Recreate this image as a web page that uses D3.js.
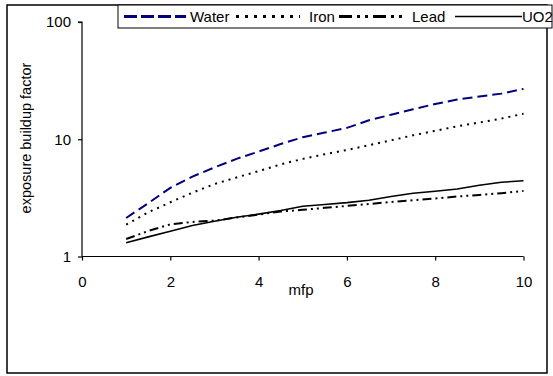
<!DOCTYPE html>
<html>
<head>
<meta charset="utf-8">
<script src="https://cdn.jsdelivr.net/npm/d3@7"></script>
<style>
  body { margin: 0; background: #fff; }
  svg { display: block; font-family: "Liberation Sans", Arial, sans-serif; }
</style>
</head>
<body>
<div id="chart"></div>
<script>
// mfp values and buildup factors
const mfp = [1, 1.5, 2, 2.5, 3, 3.5, 4, 4.5, 5, 5.5, 6, 6.5, 7, 7.5, 8, 8.5, 9, 9.5, 10];
const water = [2.13, 2.85, 3.85, 4.8, 5.75, 6.8, 7.85, 9.1, 10.4, 11.4, 12.5, 14.5, 16.2, 18.0, 20.0, 21.8, 23.2, 24.5, 26.9];
const iron = [1.87, 2.38, 2.9, 3.5, 4.15, 4.72, 5.35, 6.1, 6.8, 7.45, 8.1, 8.9, 9.8, 10.8, 11.8, 12.9, 13.9, 15.0, 16.5];
const lead = [1.41, 1.65, 1.88, 1.97, 2.02, 2.15, 2.28, 2.42, 2.5, 2.6, 2.7, 2.8, 2.92, 3.02, 3.12, 3.25, 3.35, 3.47, 3.62];
const uo2 = [1.31, 1.47, 1.64, 1.84, 2.0, 2.16, 2.3, 2.47, 2.68, 2.78, 2.88, 3.02, 3.25, 3.46, 3.6, 3.76, 4.05, 4.3, 4.42];

const seriesNames = ['Water', 'Iron', 'Lead', 'UO2'];
const xTicks = [0, 2, 4, 6, 8, 10];
const yTicks = [1, 10, 100];

const series = [
  { name: seriesNames[0], values: water, color: '#000080', width: 2, dash: '10,5', legendDash: '13,4' },
  { name: seriesNames[1], values: iron, color: '#000', width: 2, dash: '2,5', legendDash: '3,6' },
  { name: seriesNames[2], values: lead, color: '#000', width: 2, dash: '9,4,2,4,2,4', legendDash: '13,5,3,5,3,5' },
  { name: seriesNames[3], values: uo2, color: '#000', width: 1.6, dash: null, legendDash: null },
];

const W = 553, H = 376;
const svg = d3.select('#chart').append('svg').attr('width', W).attr('height', H);

// outer frame
svg.append('rect')
  .attr('x', 7).attr('y', 5).attr('width', 540).attr('height', 368)
  .attr('fill', 'none').attr('stroke', '#000').attr('stroke-width', 1.5);

const xScale = d3.scaleLinear().domain([0, 10]).range([82, 523.5]);
const yScale = d3.scaleLog().domain([1, 100]).range([256.5, 22]);

const xAxis = d3.axisBottom(xScale).tickValues(xTicks).tickSize(4).tickPadding(16).tickFormat(d3.format('d'));
const yAxis = d3.axisLeft(yScale).tickValues(yTicks).tickSize(4).tickPadding(7).tickFormat(d3.format('d'));

const gx = svg.append('g').attr('transform', 'translate(0,256.5)').call(xAxis);
const gy = svg.append('g').attr('transform', 'translate(82,0)').call(yAxis);
[gx, gy].forEach(g => {
  g.selectAll('text').attr('font-size', 15).attr('fill', '#000')
    .attr('font-family', '"Liberation Sans", Arial, sans-serif');
  g.selectAll('path, line').attr('stroke', '#000').attr('stroke-width', 1.2);
});
gy.select('.domain').attr('d', 'M-4,22H0V256.5');
gx.select('.domain').attr('d', 'M82,0H523.5');

// axis titles
svg.append('text')
  .attr('x', 301).attr('y', 295)
  .attr('text-anchor', 'middle').attr('font-size', 15)
  .text('mfp');
svg.append('text')
  .attr('transform', 'translate(31,138) rotate(-90)')
  .attr('text-anchor', 'middle').attr('font-size', 14.5)
  .text('exposure buildup factor');

// lines
const line = d3.line()
  .x((d, i) => xScale(mfp[i]))
  .y(d => yScale(d));

series.forEach(s => {
  svg.append('path')
    .datum(s.values)
    .attr('d', line)
    .attr('fill', 'none')
    .attr('stroke', s.color)
    .attr('stroke-width', s.width)
    .attr('stroke-dasharray', s.dash);
});

// legend
const legend = svg.append('g');
legend.append('rect')
  .attr('x', 118).attr('y', 5).attr('width', 434).attr('height', 23)
  .attr('fill', '#fff').attr('stroke', '#000').attr('stroke-width', 1);

const legendSampleX = [124, 236, 339, 455];
const legendSampleW = [62, 64, 64, 67];
const legendTextX = [190, 309, 412, 522];
series.forEach((s, i) => {
  legend.append('line')
    .attr('x1', legendSampleX[i]).attr('x2', legendSampleX[i] + legendSampleW[i])
    .attr('y1', 16.5).attr('y2', 16.5)
    .attr('stroke', s.color)
    .attr('stroke-width', s.name === 'UO2' ? 1.6 : 3)
    .attr('stroke-dasharray', s.legendDash);
  legend.append('text')
    .attr('x', legendTextX[i]).attr('y', 22)
    .attr('font-size', 15)
    .text(s.name);
});
</script>
</body>
</html>
